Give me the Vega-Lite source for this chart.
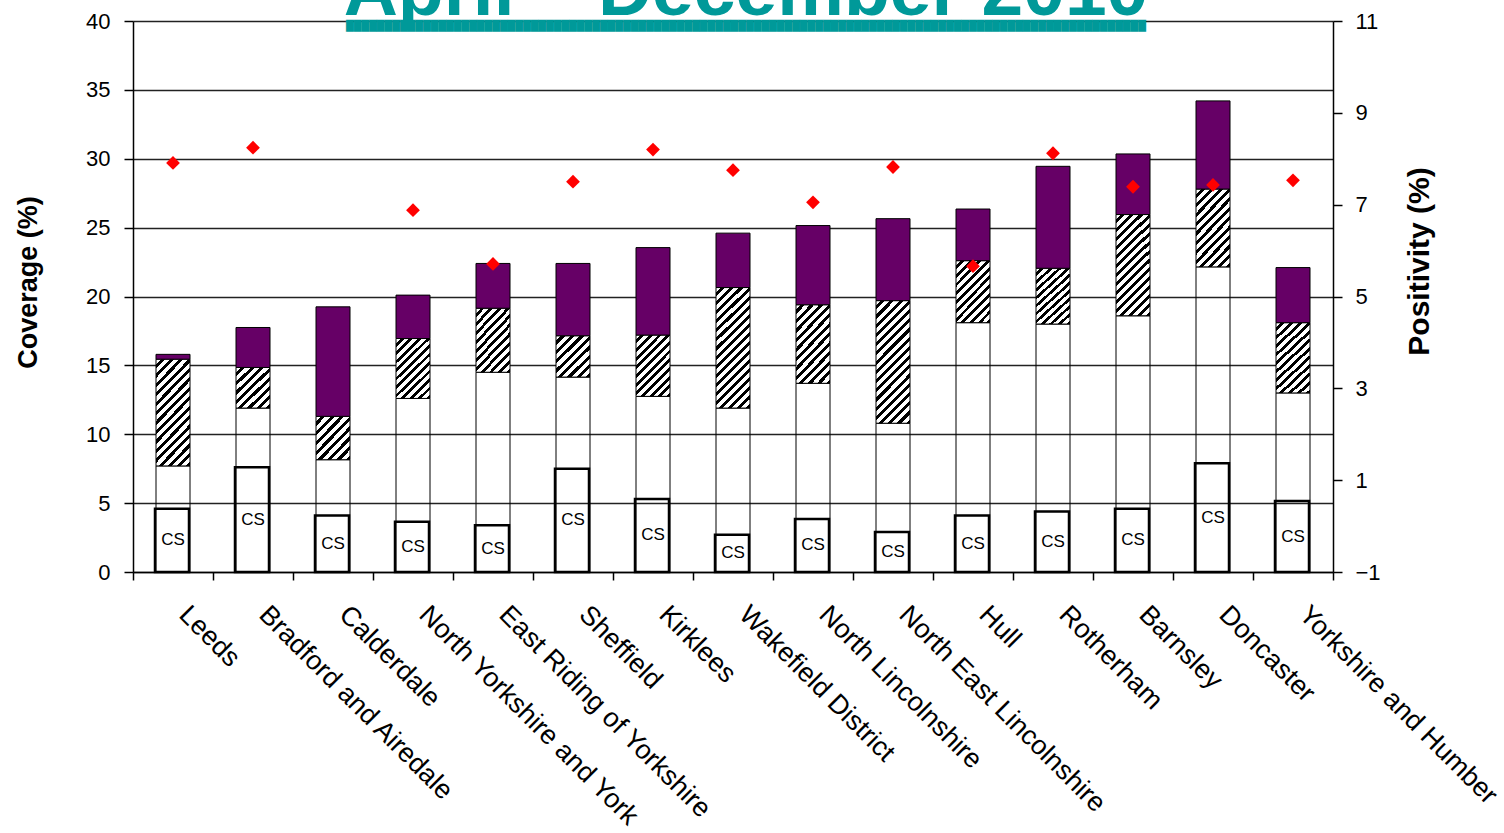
{
  "$schema": "https://vega.github.io/schema/vega-lite/v6.json",
  "width": 1200,
  "height": 551,
  "autosize": "none",
  "padding": {"left": 133, "top": 21, "right": 171, "bottom": 261},
  "background": "white",
  "config": {"view": {"stroke": null}, "font": "Liberation Sans"},
  "title": {
    "text": "April – December 2010",
    "subtitle": "████████████████████████████████████████████████████████████████████████████████████████████████████████",
    "font": "Liberation Sans",
    "fontSize": 75,
    "fontWeight": "bold",
    "color": "#009999",
    "subtitleFont": "DejaVu Sans",
    "subtitleFontSize": 10,
    "subtitleColor": "#009999",
    "subtitlePadding": -10,
    "anchor": "middle",
    "frame": "group",
    "dx": 13,
    "offset": -22
  },
  "data": {
    "values": [
      {"region": "Leeds", "cs": 4.6, "w": 7.7, "h": 15.45, "t": 15.8, "pos": 7.91},
      {"region": "Bradford and Airedale", "cs": 7.6, "w": 11.9, "h": 14.85, "t": 17.75, "pos": 8.24},
      {"region": "Calderdale", "cs": 4.1, "w": 8.15, "h": 11.3, "t": 19.25, "pos": null},
      {"region": "North Yorkshire and York", "cs": 3.65, "w": 12.6, "h": 16.95, "t": 20.1, "pos": 6.88},
      {"region": "East Riding of Yorkshire", "cs": 3.4, "w": 14.5, "h": 19.15, "t": 22.4, "pos": 5.71},
      {"region": "Sheffield", "cs": 7.5, "w": 14.15, "h": 17.15, "t": 22.4, "pos": 7.5},
      {"region": "Kirklees", "cs": 5.3, "w": 12.75, "h": 17.2, "t": 23.55, "pos": 8.2},
      {"region": "Wakefield District", "cs": 2.7, "w": 11.9, "h": 20.65, "t": 24.6, "pos": 7.75},
      {"region": "North Lincolnshire", "cs": 3.85, "w": 13.7, "h": 19.4, "t": 25.15, "pos": 7.05},
      {"region": "North East Lincolnshire", "cs": 2.9, "w": 10.8, "h": 19.7, "t": 25.65, "pos": 7.82},
      {"region": "Hull", "cs": 4.1, "w": 18.1, "h": 22.6, "t": 26.35, "pos": 5.66},
      {"region": "Rotherham", "cs": 4.4, "w": 18.0, "h": 22.05, "t": 29.45, "pos": 8.12},
      {"region": "Barnsley", "cs": 4.6, "w": 18.6, "h": 25.95, "t": 30.35, "pos": 7.39},
      {"region": "Doncaster", "cs": 7.9, "w": 22.15, "h": 27.8, "t": 34.2, "pos": 7.43},
      {"region": "Yorkshire and Humber", "cs": 5.15, "w": 13.0, "h": 18.1, "t": 22.1, "pos": 7.53}
    ]
  },
  "encoding": {
    "x": {
      "field": "region",
      "type": "nominal",
      "sort": null,
      "scale": {"paddingInner": 0, "paddingOuter": 0},
      "axis": {
        "title": null,
        "labelAngle": 45,
        "labelAlign": "left",
        "labelBaseline": "top",
        "labelFont": "Liberation Sans",
        "labelFontSize": 27,
        "labelColor": "#000",
        "labelPadding": 21,
        "labelOffset": 19,
        "labelLimit": 0,
        "labelOverlap": false,
        "tickBand": "extent",
        "tickSize": 8,
        "tickColor": "#000",
        "tickWidth": 1.5,
        "domainColor": "#000",
        "domainWidth": 1.5,
        "grid": false
      }
    }
  },
  "layer": [
    {
      "mark": {"type": "bar", "width": {"band": 0.425}, "fill": "transparent", "stroke": "#000", "strokeWidth": 1},
      "encoding": {
        "y": {
          "field": "w", "type": "quantitative",
          "scale": {"domain": [0, 40], "nice": false, "zero": true},
          "axis": {
            "orient": "left",
            "values": [0, 5, 10, 15, 20, 25, 30, 35, 40],
            "grid": true, "gridColor": "#222", "gridWidth": 1.5,
            "domainColor": "#000", "domainWidth": 1.5,
            "tickColor": "#000", "tickSize": 9, "tickWidth": 1.5,
            "labelFont": "Liberation Sans", "labelFontSize": 22, "labelColor": "#000", "labelPadding": 14,
            "title": "Coverage (%)",
            "titleFont": "Liberation Sans", "titleFontSize": 27, "titleFontWeight": "bold", "titleColor": "#000",
            "titleAngle": -90, "titleX": -105, "titleY": 261, "titleBaseline": "middle", "titleAlign": "center"
          }
        },
        "y2": {"datum": 0}
      }
    },
    {
      "transform": [{"filter": {"field": "region", "oneOf": ["Bradford and Airedale", "Calderdale", "Sheffield"]}}],
      "mark": {"type": "bar", "width": {"band": 0.425}, "stroke": "#000", "strokeWidth": 1,
        "fill": {"gradient": "linear", "x1": 0, "y1": 0, "x2": 0.8849, "y2": 1.0932, "stops": [
          {"offset": 0, "color": "#fff"}, {"offset": 0.0688, "color": "#fff"}, {"offset": 0.0688, "color": "#000"}, {"offset": 0.125, "color": "#000"},
          {"offset": 0.125, "color": "#fff"}, {"offset": 0.1938, "color": "#fff"}, {"offset": 0.1938, "color": "#000"}, {"offset": 0.25, "color": "#000"},
          {"offset": 0.25, "color": "#fff"}, {"offset": 0.3188, "color": "#fff"}, {"offset": 0.3188, "color": "#000"}, {"offset": 0.375, "color": "#000"},
          {"offset": 0.375, "color": "#fff"}, {"offset": 0.4438, "color": "#fff"}, {"offset": 0.4438, "color": "#000"}, {"offset": 0.5, "color": "#000"},
          {"offset": 0.5, "color": "#fff"}, {"offset": 0.5688, "color": "#fff"}, {"offset": 0.5688, "color": "#000"}, {"offset": 0.625, "color": "#000"},
          {"offset": 0.625, "color": "#fff"}, {"offset": 0.6938, "color": "#fff"}, {"offset": 0.6938, "color": "#000"}, {"offset": 0.75, "color": "#000"},
          {"offset": 0.75, "color": "#fff"}, {"offset": 0.8188, "color": "#fff"}, {"offset": 0.8188, "color": "#000"}, {"offset": 0.875, "color": "#000"},
          {"offset": 0.875, "color": "#fff"}, {"offset": 0.9438, "color": "#fff"}, {"offset": 0.9438, "color": "#000"}, {"offset": 1, "color": "#000"}
        ]}},
      "encoding": {
        "y": {"field": "w", "type": "quantitative", "scale": {"domain": [0, 40], "nice": false}, "axis": null},
        "y2": {"field": "h"}
      }
    },
    {
      "transform": [{"filter": {"field": "region", "oneOf": ["North Yorkshire and York", "East Riding of Yorkshire", "Kirklees", "Hull", "Rotherham"]}}],
      "mark": {"type": "bar", "width": {"band": 0.425}, "stroke": "#000", "strokeWidth": 1,
        "fill": {"gradient": "linear", "x1": 0, "y1": 0, "x2": 0.6623, "y2": 1.1882, "stops": [
          {"offset": 0, "color": "#fff"}, {"offset": 0.05, "color": "#fff"}, {"offset": 0.05, "color": "#000"}, {"offset": 0.0909, "color": "#000"},
          {"offset": 0.0909, "color": "#fff"}, {"offset": 0.1409, "color": "#fff"}, {"offset": 0.1409, "color": "#000"}, {"offset": 0.1818, "color": "#000"},
          {"offset": 0.1818, "color": "#fff"}, {"offset": 0.2318, "color": "#fff"}, {"offset": 0.2318, "color": "#000"}, {"offset": 0.2727, "color": "#000"},
          {"offset": 0.2727, "color": "#fff"}, {"offset": 0.3227, "color": "#fff"}, {"offset": 0.3227, "color": "#000"}, {"offset": 0.3636, "color": "#000"},
          {"offset": 0.3636, "color": "#fff"}, {"offset": 0.4136, "color": "#fff"}, {"offset": 0.4136, "color": "#000"}, {"offset": 0.4545, "color": "#000"},
          {"offset": 0.4545, "color": "#fff"}, {"offset": 0.5045, "color": "#fff"}, {"offset": 0.5045, "color": "#000"}, {"offset": 0.5455, "color": "#000"},
          {"offset": 0.5455, "color": "#fff"}, {"offset": 0.5955, "color": "#fff"}, {"offset": 0.5955, "color": "#000"}, {"offset": 0.6364, "color": "#000"},
          {"offset": 0.6364, "color": "#fff"}, {"offset": 0.6864, "color": "#fff"}, {"offset": 0.6864, "color": "#000"}, {"offset": 0.7273, "color": "#000"},
          {"offset": 0.7273, "color": "#fff"}, {"offset": 0.7773, "color": "#fff"}, {"offset": 0.7773, "color": "#000"}, {"offset": 0.8182, "color": "#000"},
          {"offset": 0.8182, "color": "#fff"}, {"offset": 0.8682, "color": "#fff"}, {"offset": 0.8682, "color": "#000"}, {"offset": 0.9091, "color": "#000"},
          {"offset": 0.9091, "color": "#fff"}, {"offset": 0.9591, "color": "#fff"}, {"offset": 0.9591, "color": "#000"}, {"offset": 1, "color": "#000"}
        ]}},
      "encoding": {
        "y": {"field": "w", "type": "quantitative", "scale": {"domain": [0, 40], "nice": false}, "axis": null},
        "y2": {"field": "h"}
      }
    },
    {
      "transform": [{"filter": {"field": "region", "oneOf": ["North Lincolnshire", "Doncaster", "Yorkshire and Humber"]}}],
      "mark": {"type": "bar", "width": {"band": 0.425}, "stroke": "#000", "strokeWidth": 1,
        "fill": {"gradient": "linear", "x1": 0, "y1": 0, "x2": 0.5465, "y2": 1.2056, "stops": [
          {"offset": 0, "color": "#fff"}, {"offset": 0.0458, "color": "#fff"}, {"offset": 0.0458, "color": "#000"}, {"offset": 0.0833, "color": "#000"},
          {"offset": 0.0833, "color": "#fff"}, {"offset": 0.1291, "color": "#fff"}, {"offset": 0.1291, "color": "#000"}, {"offset": 0.1667, "color": "#000"},
          {"offset": 0.1667, "color": "#fff"}, {"offset": 0.2125, "color": "#fff"}, {"offset": 0.2125, "color": "#000"}, {"offset": 0.25, "color": "#000"},
          {"offset": 0.25, "color": "#fff"}, {"offset": 0.2958, "color": "#fff"}, {"offset": 0.2958, "color": "#000"}, {"offset": 0.3333, "color": "#000"},
          {"offset": 0.3333, "color": "#fff"}, {"offset": 0.3791, "color": "#fff"}, {"offset": 0.3791, "color": "#000"}, {"offset": 0.4167, "color": "#000"},
          {"offset": 0.4167, "color": "#fff"}, {"offset": 0.4625, "color": "#fff"}, {"offset": 0.4625, "color": "#000"}, {"offset": 0.5, "color": "#000"},
          {"offset": 0.5, "color": "#fff"}, {"offset": 0.5458, "color": "#fff"}, {"offset": 0.5458, "color": "#000"}, {"offset": 0.5833, "color": "#000"},
          {"offset": 0.5833, "color": "#fff"}, {"offset": 0.6291, "color": "#fff"}, {"offset": 0.6291, "color": "#000"}, {"offset": 0.6667, "color": "#000"},
          {"offset": 0.6667, "color": "#fff"}, {"offset": 0.7125, "color": "#fff"}, {"offset": 0.7125, "color": "#000"}, {"offset": 0.75, "color": "#000"},
          {"offset": 0.75, "color": "#fff"}, {"offset": 0.7958, "color": "#fff"}, {"offset": 0.7958, "color": "#000"}, {"offset": 0.8333, "color": "#000"},
          {"offset": 0.8333, "color": "#fff"}, {"offset": 0.8791, "color": "#fff"}, {"offset": 0.8791, "color": "#000"}, {"offset": 0.9167, "color": "#000"},
          {"offset": 0.9167, "color": "#fff"}, {"offset": 0.9625, "color": "#fff"}, {"offset": 0.9625, "color": "#000"}, {"offset": 1, "color": "#000"}
        ]}},
      "encoding": {
        "y": {"field": "w", "type": "quantitative", "scale": {"domain": [0, 40], "nice": false}, "axis": null},
        "y2": {"field": "h"}
      }
    },
    {
      "transform": [{"filter": {"field": "region", "oneOf": ["Leeds", "Barnsley"]}}],
      "mark": {"type": "bar", "width": {"band": 0.425}, "stroke": "#000", "strokeWidth": 1,
        "fill": {"gradient": "linear", "x1": 0, "y1": 0, "x2": 0.3919, "y2": 1.1988, "stops": [
          {"offset": 0, "color": "#fff"}, {"offset": 0.0367, "color": "#fff"}, {"offset": 0.0367, "color": "#000"}, {"offset": 0.0667, "color": "#000"},
          {"offset": 0.0667, "color": "#fff"}, {"offset": 0.1034, "color": "#fff"}, {"offset": 0.1034, "color": "#000"}, {"offset": 0.1333, "color": "#000"},
          {"offset": 0.1333, "color": "#fff"}, {"offset": 0.17, "color": "#fff"}, {"offset": 0.17, "color": "#000"}, {"offset": 0.2, "color": "#000"},
          {"offset": 0.2, "color": "#fff"}, {"offset": 0.2367, "color": "#fff"}, {"offset": 0.2367, "color": "#000"}, {"offset": 0.2667, "color": "#000"},
          {"offset": 0.2667, "color": "#fff"}, {"offset": 0.3034, "color": "#fff"}, {"offset": 0.3034, "color": "#000"}, {"offset": 0.3333, "color": "#000"},
          {"offset": 0.3333, "color": "#fff"}, {"offset": 0.37, "color": "#fff"}, {"offset": 0.37, "color": "#000"}, {"offset": 0.4, "color": "#000"},
          {"offset": 0.4, "color": "#fff"}, {"offset": 0.4367, "color": "#fff"}, {"offset": 0.4367, "color": "#000"}, {"offset": 0.4667, "color": "#000"},
          {"offset": 0.4667, "color": "#fff"}, {"offset": 0.5034, "color": "#fff"}, {"offset": 0.5034, "color": "#000"}, {"offset": 0.5333, "color": "#000"},
          {"offset": 0.5333, "color": "#fff"}, {"offset": 0.57, "color": "#fff"}, {"offset": 0.57, "color": "#000"}, {"offset": 0.6, "color": "#000"},
          {"offset": 0.6, "color": "#fff"}, {"offset": 0.6367, "color": "#fff"}, {"offset": 0.6367, "color": "#000"}, {"offset": 0.6667, "color": "#000"},
          {"offset": 0.6667, "color": "#fff"}, {"offset": 0.7034, "color": "#fff"}, {"offset": 0.7034, "color": "#000"}, {"offset": 0.7333, "color": "#000"},
          {"offset": 0.7333, "color": "#fff"}, {"offset": 0.77, "color": "#fff"}, {"offset": 0.77, "color": "#000"}, {"offset": 0.8, "color": "#000"},
          {"offset": 0.8, "color": "#fff"}, {"offset": 0.8367, "color": "#fff"}, {"offset": 0.8367, "color": "#000"}, {"offset": 0.8667, "color": "#000"},
          {"offset": 0.8667, "color": "#fff"}, {"offset": 0.9034, "color": "#fff"}, {"offset": 0.9034, "color": "#000"}, {"offset": 0.9333, "color": "#000"},
          {"offset": 0.9333, "color": "#fff"}, {"offset": 0.97, "color": "#fff"}, {"offset": 0.97, "color": "#000"}, {"offset": 1, "color": "#000"}
        ]}},
      "encoding": {
        "y": {"field": "w", "type": "quantitative", "scale": {"domain": [0, 40], "nice": false}, "axis": null},
        "y2": {"field": "h"}
      }
    },
    {
      "transform": [{"filter": {"field": "region", "oneOf": ["Wakefield District", "North East Lincolnshire"]}}],
      "mark": {"type": "bar", "width": {"band": 0.425}, "stroke": "#000", "strokeWidth": 1,
        "fill": {"gradient": "linear", "x1": 0, "y1": 0, "x2": 0.3307, "y2": 1.1865, "stops": [
          {"offset": 0, "color": "#fff"}, {"offset": 0.0324, "color": "#fff"}, {"offset": 0.0324, "color": "#000"}, {"offset": 0.0588, "color": "#000"},
          {"offset": 0.0588, "color": "#fff"}, {"offset": 0.0912, "color": "#fff"}, {"offset": 0.0912, "color": "#000"}, {"offset": 0.1176, "color": "#000"},
          {"offset": 0.1176, "color": "#fff"}, {"offset": 0.15, "color": "#fff"}, {"offset": 0.15, "color": "#000"}, {"offset": 0.1765, "color": "#000"},
          {"offset": 0.1765, "color": "#fff"}, {"offset": 0.2089, "color": "#fff"}, {"offset": 0.2089, "color": "#000"}, {"offset": 0.2353, "color": "#000"},
          {"offset": 0.2353, "color": "#fff"}, {"offset": 0.2677, "color": "#fff"}, {"offset": 0.2677, "color": "#000"}, {"offset": 0.2941, "color": "#000"},
          {"offset": 0.2941, "color": "#fff"}, {"offset": 0.3265, "color": "#fff"}, {"offset": 0.3265, "color": "#000"}, {"offset": 0.3529, "color": "#000"},
          {"offset": 0.3529, "color": "#fff"}, {"offset": 0.3853, "color": "#fff"}, {"offset": 0.3853, "color": "#000"}, {"offset": 0.4118, "color": "#000"},
          {"offset": 0.4118, "color": "#fff"}, {"offset": 0.4442, "color": "#fff"}, {"offset": 0.4442, "color": "#000"}, {"offset": 0.4706, "color": "#000"},
          {"offset": 0.4706, "color": "#fff"}, {"offset": 0.503, "color": "#fff"}, {"offset": 0.503, "color": "#000"}, {"offset": 0.5294, "color": "#000"},
          {"offset": 0.5294, "color": "#fff"}, {"offset": 0.5618, "color": "#fff"}, {"offset": 0.5618, "color": "#000"}, {"offset": 0.5882, "color": "#000"},
          {"offset": 0.5882, "color": "#fff"}, {"offset": 0.6206, "color": "#fff"}, {"offset": 0.6206, "color": "#000"}, {"offset": 0.6471, "color": "#000"},
          {"offset": 0.6471, "color": "#fff"}, {"offset": 0.6795, "color": "#fff"}, {"offset": 0.6795, "color": "#000"}, {"offset": 0.7059, "color": "#000"},
          {"offset": 0.7059, "color": "#fff"}, {"offset": 0.7383, "color": "#fff"}, {"offset": 0.7383, "color": "#000"}, {"offset": 0.7647, "color": "#000"},
          {"offset": 0.7647, "color": "#fff"}, {"offset": 0.7971, "color": "#fff"}, {"offset": 0.7971, "color": "#000"}, {"offset": 0.8235, "color": "#000"},
          {"offset": 0.8235, "color": "#fff"}, {"offset": 0.8559, "color": "#fff"}, {"offset": 0.8559, "color": "#000"}, {"offset": 0.8824, "color": "#000"},
          {"offset": 0.8824, "color": "#fff"}, {"offset": 0.9148, "color": "#fff"}, {"offset": 0.9148, "color": "#000"}, {"offset": 0.9412, "color": "#000"},
          {"offset": 0.9412, "color": "#fff"}, {"offset": 0.9736, "color": "#fff"}, {"offset": 0.9736, "color": "#000"}, {"offset": 1, "color": "#000"}
        ]}},
      "encoding": {
        "y": {"field": "w", "type": "quantitative", "scale": {"domain": [0, 40], "nice": false}, "axis": null},
        "y2": {"field": "h"}
      }
    },
    {
      "mark": {"type": "bar", "width": {"band": 0.425}, "fill": "#660066", "stroke": "#000", "strokeWidth": 1},
      "encoding": {
        "y": {"field": "h", "type": "quantitative", "scale": {"domain": [0, 40], "nice": false}, "axis": null},
        "y2": {"field": "t"}
      }
    },
    {
      "mark": {"type": "bar", "width": {"band": 0.425}, "fill": "transparent", "stroke": "#000", "strokeWidth": 2.5, "xOffset": -1},
      "encoding": {
        "y": {"field": "cs", "type": "quantitative", "scale": {"domain": [0, 40], "nice": false}, "axis": null},
        "y2": {"datum": 0}
      }
    },
    {
      "mark": {"type": "text", "text": "CS", "font": "Liberation Sans", "fontSize": 17, "color": "#000", "baseline": "middle", "align": "center"},
      "encoding": {
        "y": {"field": "cs", "type": "quantitative", "scale": {"domain": [0, 80], "nice": false, "zero": true}, "axis": null}
      }
    },
    {
      "mark": {"type": "point", "shape": "diamond", "filled": true, "color": "#ff0000", "opacity": 1, "size": 190},
      "encoding": {
        "y": {
          "field": "pos", "type": "quantitative",
          "scale": {"domain": [-1, 11], "nice": false, "zero": false},
          "axis": {
            "orient": "right",
            "values": [-1, 1, 3, 5, 7, 9, 11],
            "grid": false,
            "domainColor": "#000", "domainWidth": 1.5,
            "tickColor": "#000", "tickSize": 9, "tickWidth": 1.5,
            "labelFont": "Liberation Sans", "labelFontSize": 22, "labelColor": "#000", "labelPadding": 13,
            "title": "Positivity (%)",
            "titleFont": "Liberation Sans", "titleFontSize": 30, "titleFontWeight": "bold", "titleColor": "#000",
            "titleAngle": -90, "titleX": 86, "titleY": 240, "titleBaseline": "middle", "titleAlign": "center"
          }
        }
      }
    }
  ],
  "resolve": {"scale": {"y": "independent"}}
}
